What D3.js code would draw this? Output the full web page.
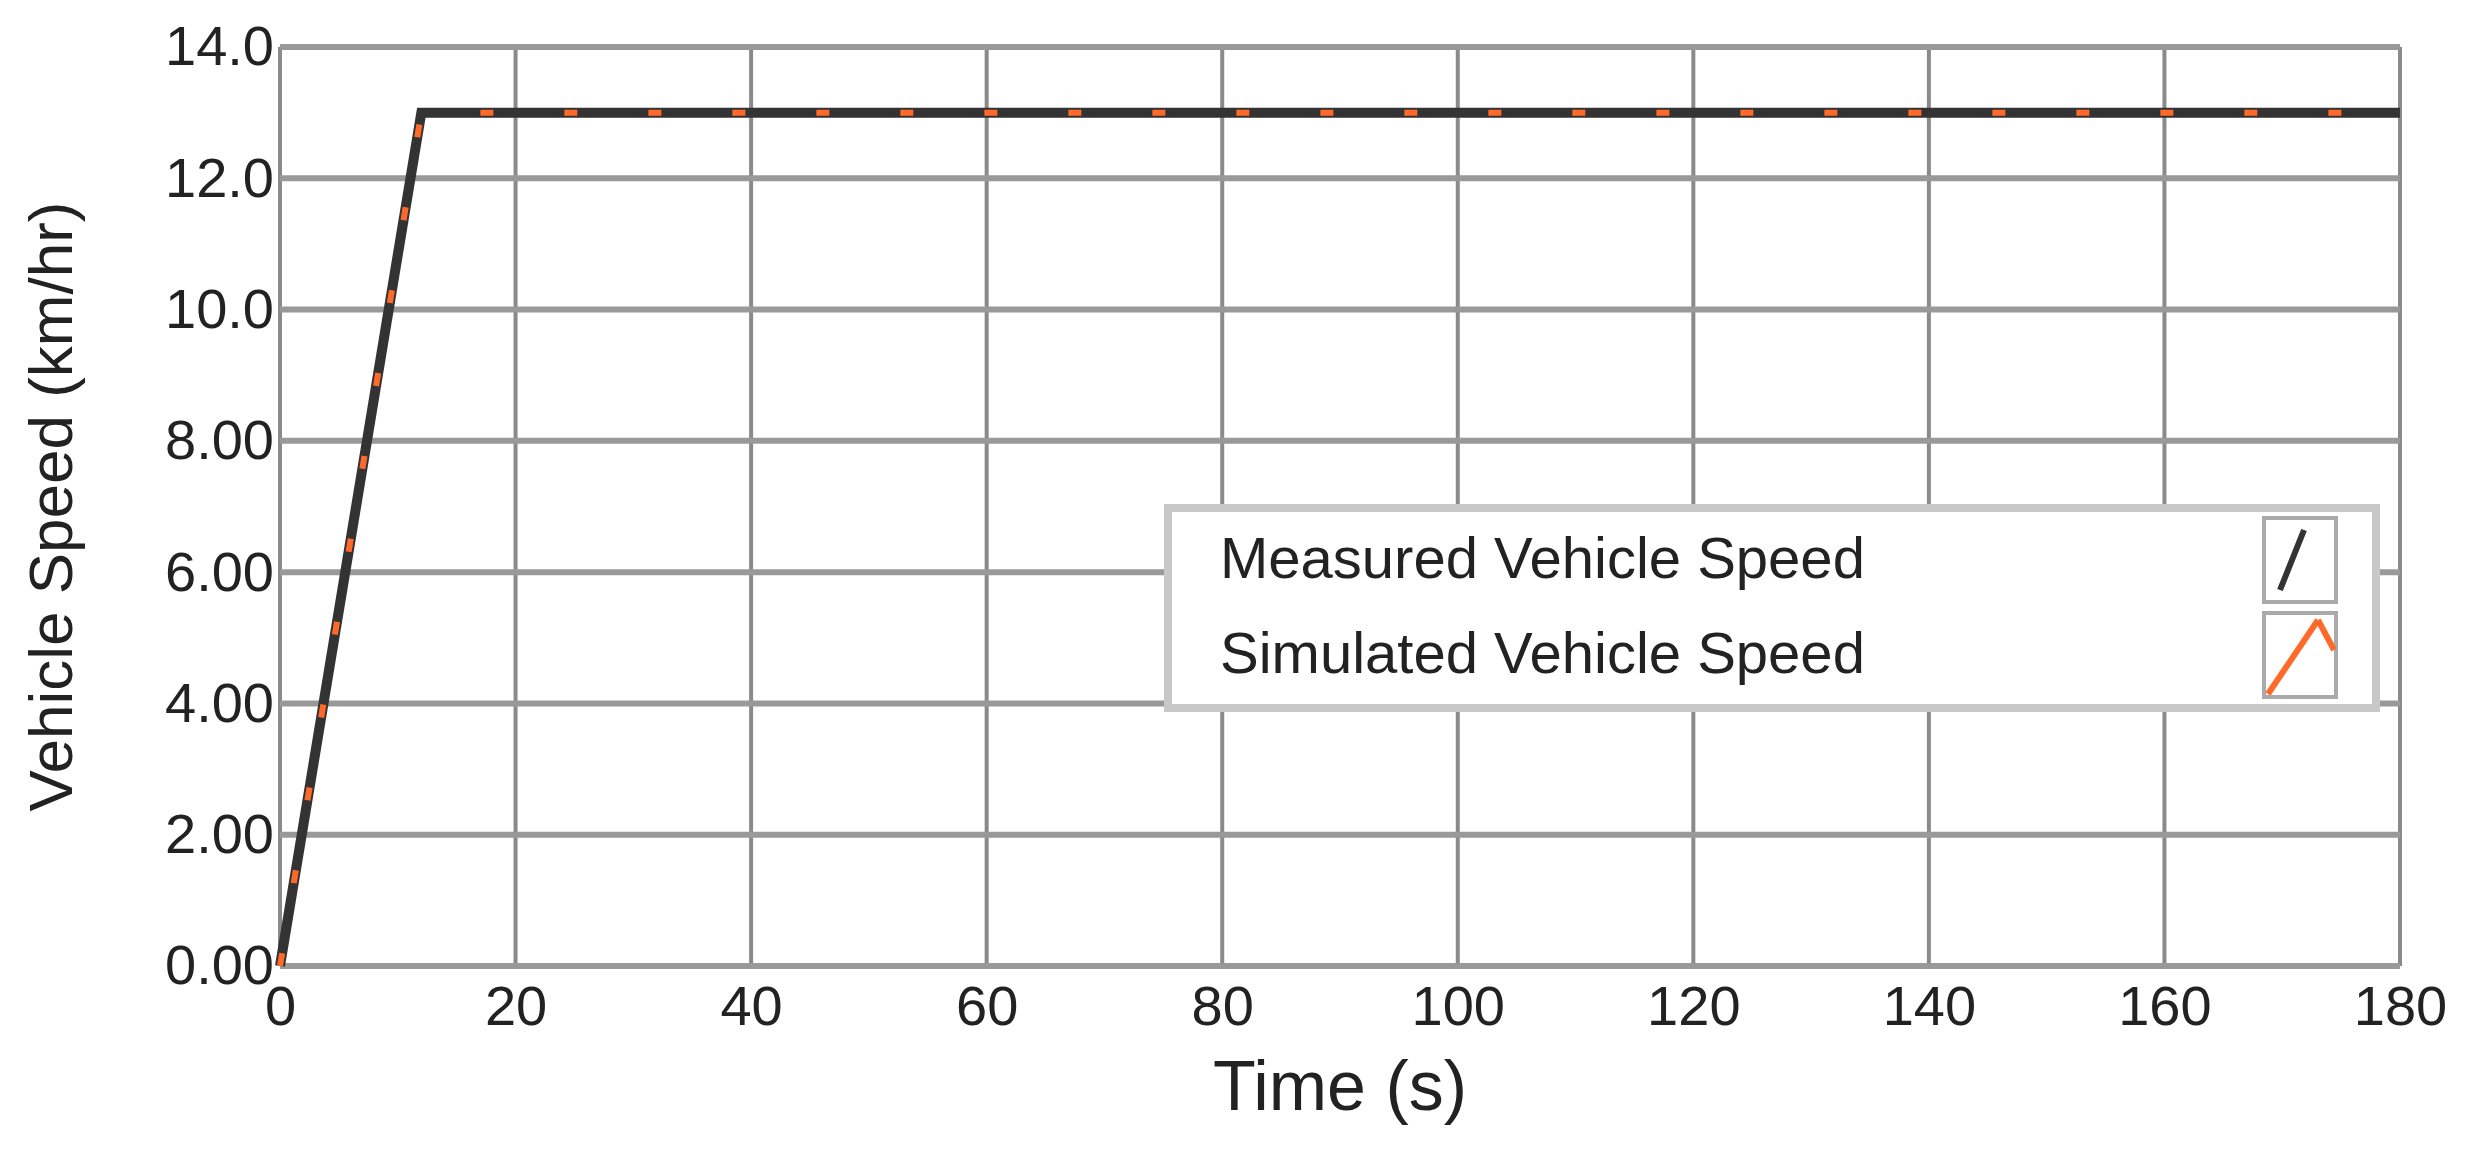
<!DOCTYPE html><html><head><meta charset="utf-8"><script src="https://cdn.jsdelivr.net/npm/d3@7"></script>
<style>body{margin:0;background:#fff}svg{display:block}text{font-family:"Liberation Sans",Arial,sans-serif;fill:#222}</style></head><body><svg id="c" width="2469" height="1166"></svg><script>
const time=[0,12,180];
const measured=[0,13,13];
const simulated=[0,13,13];
const xTicks=[0,20,40,60,80,100,120,140,160,180];
const yTicks=[0,2,4,6,8,10,12,14];
const yLabels=["0.00","2.00","4.00","6.00","8.00","10.0","12.0","14.0"];
const seriesNames=["Measured Vehicle Speed","Simulated Vehicle Speed"];
const svg=d3.select("#c");
const L=280,R=2400,T=47,B=966;
const x=d3.scaleLinear().domain([0,180]).range([L,R]);
const y=d3.scaleLinear().domain([0,14]).range([B,T]);
const g=svg.append("g");
g.selectAll(".vx").data(xTicks).join("line").attr("x1",d=>x(d)).attr("x2",d=>x(d)).attr("y1",T).attr("y2",B).attr("stroke","#8a8a8a").attr("stroke-width",4);
g.selectAll(".hy").data(yTicks).join("line").attr("y1",d=>y(d)).attr("y2",d=>y(d)).attr("x1",L).attr("x2",R).attr("stroke","#999").attr("stroke-width",6);
const xa=svg.append("g").attr("transform",`translate(0,${B})`).call(d3.axisBottom(x).tickValues(xTicks).tickSize(0).tickPadding(14));
xa.select(".domain").remove();
xa.selectAll("text").attr("font-size",56).attr("fill","#222").attr("dy","0.8em");
const ya=svg.append("g").attr("transform",`translate(${L},0)`).call(d3.axisLeft(y).tickValues(yTicks).tickFormat((d,i)=>yLabels[i]).tickSize(0).tickPadding(6));
ya.select(".domain").remove();
ya.selectAll("text").attr("font-size",56).attr("fill","#222");
svg.append("text").attr("x",(L+R)/2).attr("y",1110).attr("text-anchor","middle").attr("font-size",70).text("Time (s)");
svg.append("text").attr("transform",`translate(72,${(T+B)/2}) rotate(-90)`).attr("text-anchor","middle").attr("font-size",62).text("Vehicle Speed (km/hr)");
const line=d3.line().x((d,i)=>x(time[i])).y(d=>y(d));
svg.append("path").attr("d",line(measured)).attr("fill","none").attr("stroke","#333").attr("stroke-width",10);
svg.append("path").attr("d",line(simulated)).attr("fill","none").attr("stroke","#ff6a2a").attr("stroke-width",6).attr("stroke-dasharray","13 71");
// legend
const lg=svg.append("g").attr("transform","translate(1168,508)");
lg.append("rect").attr("width",1208).attr("height",200).attr("fill","#fff").attr("stroke","#c8c8c8").attr("stroke-width",8);
seriesNames.forEach((n,i)=>{
 lg.append("text").attr("x",52).attr("y",50+i*95).attr("dy","0.35em").attr("font-size",58).text(n);
 lg.append("rect").attr("x",1096).attr("y",10+i*95).attr("width",72).attr("height",84).attr("fill","#fff").attr("stroke","#aaa").attr("stroke-width",4);
});
lg.append("line").attr("x1",1112).attr("y1",82).attr("x2",1136).attr("y2",22).attr("stroke","#333").attr("stroke-width",6);
lg.append("line").attr("x1",1100).attr("y1",186).attr("x2",1150).attr("y2",112).attr("stroke","#ff6a2a").attr("stroke-width",6);
lg.append("line").attr("x1",1150).attr("y1",112).attr("x2",1166).attr("y2",142).attr("stroke","#ff6a2a").attr("stroke-width",6);
</script></body></html>
